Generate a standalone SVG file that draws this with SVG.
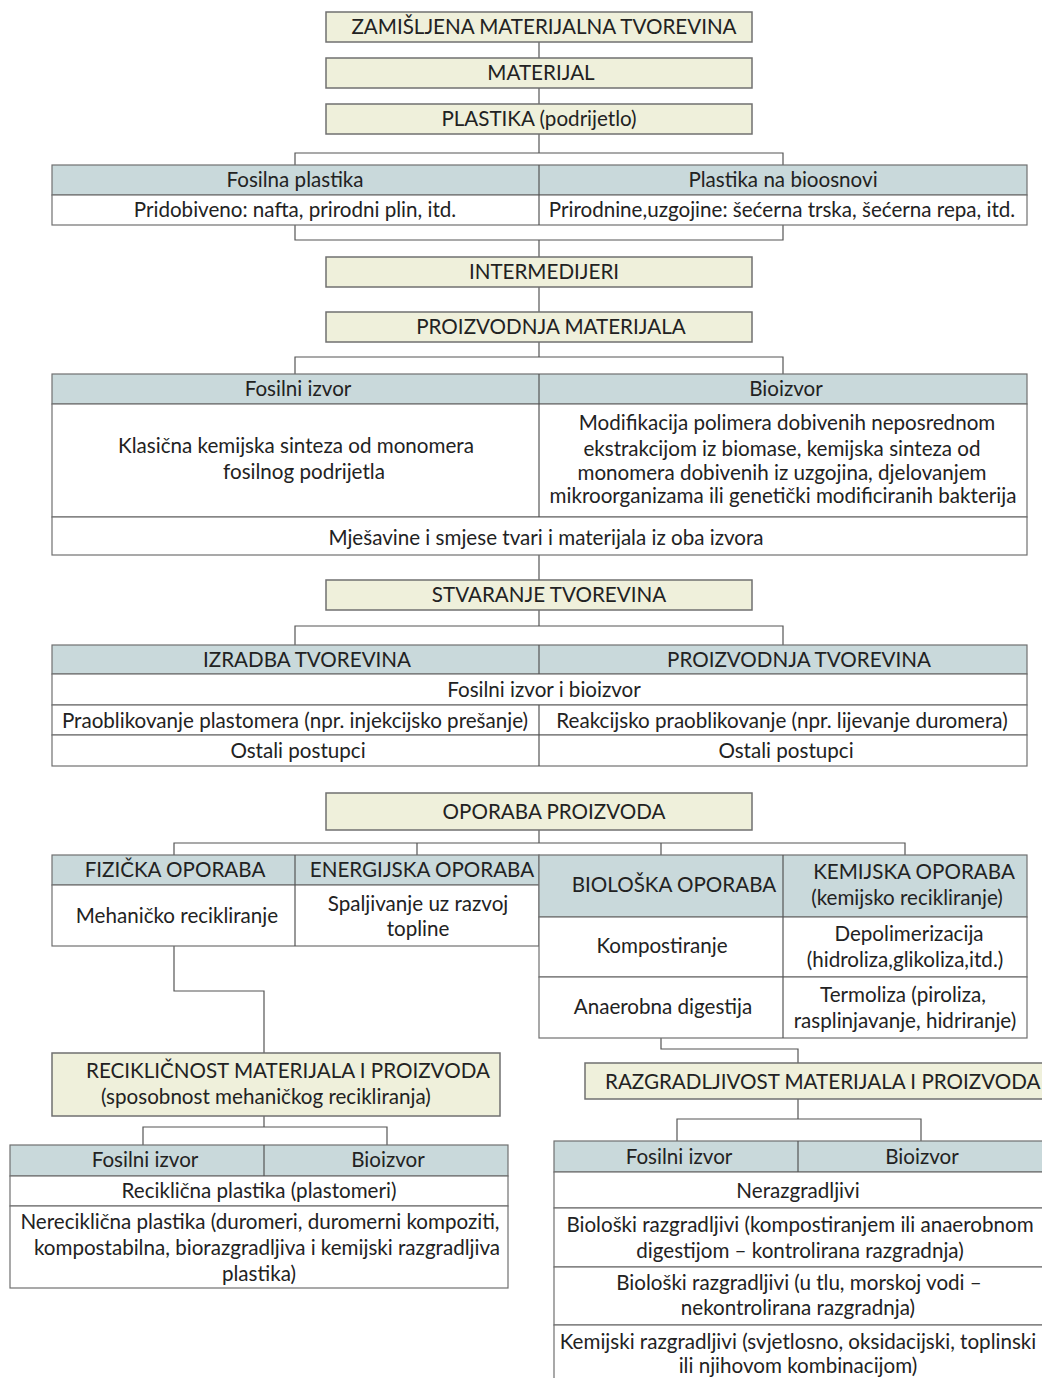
<svg xmlns="http://www.w3.org/2000/svg" width="1042" height="1378" viewBox="0 0 1042 1378">
<style>
text{font-family:Lato,"Open Sans","Liberation Sans",sans-serif;font-size:20.6px;fill:#222;text-anchor:middle}
.s{text-anchor:start}
.box{fill:#eff0db;stroke:#707070;stroke-width:1.5}
.hd{fill:#c9d9db;stroke:#707070;stroke-width:1.2}
.cell{fill:#fff;stroke:#707070;stroke-width:1.2}
.ln{fill:none;stroke:#555;stroke-width:1.2}
</style>
<rect width="1042" height="1378" fill="#fff"/>
<g id="connectors">
<path class="ln" d="M539 42V58M539 88V104M539 134V153M295 165V153H783V165"/>
<path class="ln" d="M295 225V240H783V225M539 240V257M539 287V312"/>
<path class="ln" d="M539 342V357M295 374V357H783V374"/>
<path class="ln" d="M539 555V580M539 610V626M295 645V626H783V645"/>
<path class="ln" d="M539 830V843M174 855V843H905V855M417 843V855M661 843V855"/>
<path class="ln" d="M174 946V991H264V1053"/>
<path class="ln" d="M661 1038V1049H798V1063"/>
<path class="ln" d="M264 1116V1127M143 1145V1127H387V1145"/>
<path class="ln" d="M798 1099V1119M677 1141V1119H921V1141"/>
</g>
<g id="n1"><rect class="box" x="326" y="12" width="426" height="30"/><text x="544" y="34">ZAMIŠLJENA MATERIJALNA TVOREVINA</text></g>
<g id="n2"><rect class="box" x="326" y="58" width="426" height="30"/><text x="541" y="80">MATERIJAL</text></g>
<g id="n3"><rect class="box" x="326" y="104" width="426" height="30"/><text x="539" y="126">PLASTIKA (podrijetlo)</text></g>
<g id="t1">
<rect class="hd" x="52" y="165" width="975" height="30"/>
<rect class="cell" x="52" y="195" width="975" height="30"/>
<path class="ln" d="M539 165V225"/>
<text x="295" y="187">Fosilna plastika</text><text x="783" y="187">Plastika na bioosnovi</text>
<text x="295" y="217">Pridobiveno: nafta, prirodni plin, itd.</text><text x="782" y="217">Prirodnine,uzgojine: šećerna trska, šećerna repa, itd.</text>
</g>
<g id="n4"><rect class="box" x="326" y="257" width="426" height="30"/><text x="544" y="279">INTERMEDIJERI</text></g>
<g id="n5"><rect class="box" x="326" y="312" width="426" height="30"/><text x="551" y="334">PROIZVODNJA MATERIJALA</text></g>
<g id="t2">
<rect class="hd" x="52" y="374" width="975" height="30"/>
<rect class="cell" x="52" y="404" width="975" height="113"/>
<rect class="cell" x="52" y="517" width="975" height="38"/>
<path class="ln" d="M539 374V517"/>
<text x="298" y="396">Fosilni izvor</text><text x="786" y="396">Bioizvor</text>
<text x="296" y="453">Klasična kemijska sinteza od monomera</text>
<text x="304" y="479">fosilnog podrijetla</text>
<text x="787" y="430">Modifikacija polimera dobivenih neposrednom</text>
<text x="782" y="456">ekstrakcijom iz biomase, kemijska sinteza od</text>
<text x="782" y="480">monomera dobivenih iz uzgojina, djelovanjem</text>
<text x="783" y="503">mikroorganizama ili genetički modificiranih bakterija</text>
<text x="546" y="545">Mješavine i smjese tvari i materijala iz oba izvora</text>
</g>
<g id="n6"><rect class="box" x="326" y="580" width="426" height="30"/><text x="549" y="602">STVARANJE TVOREVINA</text></g>
<g id="t3">
<rect class="hd" x="52" y="645" width="975" height="29"/>
<rect class="cell" x="52" y="674" width="975" height="31"/>
<rect class="cell" x="52" y="705" width="975" height="30"/>
<rect class="cell" x="52" y="735" width="975" height="31"/>
<path class="ln" d="M539 645V674M539 705V766"/>
<text x="307" y="667">IZRADBA TVOREVINA</text><text x="799" y="667">PROIZVODNJA TVOREVINA</text>
<text x="544" y="697">Fosilni izvor i bioizvor</text>
<text x="295" y="728">Praoblikovanje plastomera (npr. injekcijsko prešanje)</text>
<text x="782" y="728">Reakcijsko praoblikovanje (npr. lijevanje duromera)</text>
<text x="298" y="758">Ostali postupci</text><text x="786" y="758">Ostali postupci</text>
</g>
<g id="n7"><rect class="box" x="326" y="793" width="426" height="37"/><text x="554" y="819">OPORABA PROIZVODA</text></g>
<g id="t4">
<rect class="hd" x="52" y="855" width="487" height="30"/>
<rect class="cell" x="52" y="885" width="487" height="61"/>
<path class="ln" d="M295 855V946"/>
<text x="175" y="877">FIZIČKA OPORABA</text><text x="422" y="877">ENERGIJSKA OPORABA</text>
<text x="177" y="923">Mehaničko recikliranje</text>
<text x="418" y="911">Spaljivanje uz razvoj</text><text x="418" y="936">topline</text>
</g>
<g id="t5">
<rect class="hd" x="539" y="855" width="488" height="62"/>
<rect class="cell" x="539" y="917" width="488" height="60"/>
<rect class="cell" x="539" y="977" width="488" height="61"/>
<path class="ln" d="M783 855V1038"/>
<text x="674" y="892">BIOLOŠKA OPORABA</text>
<text x="914" y="879">KEMIJSKA OPORABA</text><text x="907" y="905">(kemijsko recikliranje)</text>
<text x="662" y="953">Kompostiranje</text>
<text x="909" y="941">Depolimerizacija</text><text x="905" y="967">(hidroliza,glikoliza,itd.)</text>
<text x="663" y="1014">Anaerobna digestija</text>
<text x="903" y="1002">Termoliza (piroliza,</text><text x="905" y="1028">rasplinjavanje, hidriranje)</text>
</g>
<g id="n8"><rect class="box" x="52" y="1053" width="448" height="63"/>
<text class="s" x="86" y="1078">RECIKLIČNOST MATERIJALA I PROIZVODA</text>
<text class="s" x="101" y="1104">(sposobnost mehaničkog recikliranja)</text></g>
<g id="t6">
<rect class="hd" x="10" y="1145" width="498" height="31"/>
<rect class="cell" x="10" y="1176" width="498" height="30"/>
<rect class="cell" x="10" y="1206" width="498" height="82"/>
<path class="ln" d="M264 1145V1176"/>
<text x="145" y="1167">Fosilni izvor</text><text x="388" y="1167">Bioizvor</text>
<text x="259" y="1198">Reciklična plastika  (plastomeri)</text>
<text x="260" y="1229">Nereciklična plastika (duromeri, duromerni kompoziti,</text>
<text x="267" y="1255">kompostabilna, biorazgradljiva i kemijski razgradljiva</text>
<text x="259" y="1281">plastika)</text>
</g>
<g id="n9"><rect class="box" x="585" y="1063" width="470" height="36"/>
<text class="s" x="605" y="1089">RAZGRADLJIVOST MATERIJALA I PROIZVODA</text></g>
<g id="t7">
<rect class="hd" x="554" y="1141" width="500" height="31"/>
<rect class="cell" x="554" y="1172" width="500" height="36"/>
<rect class="cell" x="554" y="1208" width="500" height="59"/>
<rect class="cell" x="554" y="1267" width="500" height="58"/>
<rect class="cell" x="554" y="1325" width="500" height="60"/>
<path class="ln" d="M798 1141V1172"/>
<text x="679" y="1164">Fosilni izvor</text><text x="922" y="1164">Bioizvor</text>
<text x="798" y="1198">Nerazgradljivi</text>
<text x="800" y="1232">Biološki razgradljivi (kompostiranjem ili anaerobnom</text>
<text x="800" y="1258">digestijom – kontrolirana razgradnja)</text>
<text x="799" y="1290">Biološki razgradljivi (u tlu, morskoj vodi –</text>
<text x="798" y="1315">nekontrolirana razgradnja)</text>
<text x="798" y="1349">Kemijski razgradljivi (svjetlosno, oksidacijski, toplinski</text>
<text x="798" y="1373">ili njihovom kombinacijom)</text>
</g>
</svg>
